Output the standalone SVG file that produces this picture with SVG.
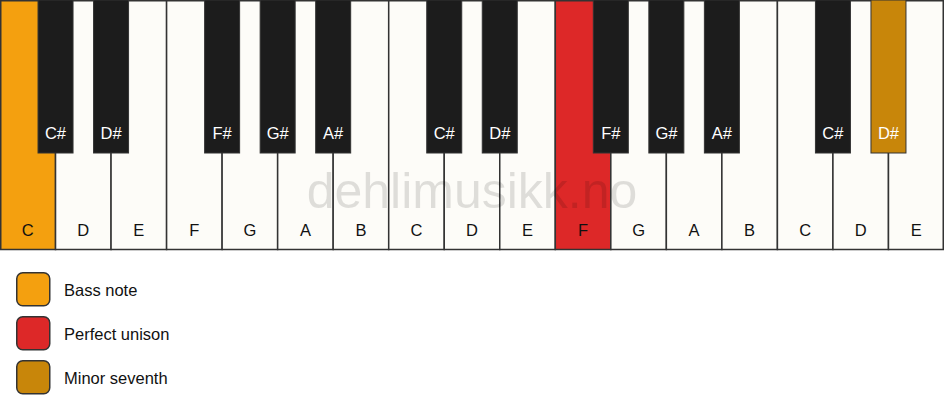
<svg xmlns="http://www.w3.org/2000/svg" width="944" height="417" viewBox="0 0 944 417">
<style>
.w{fill:#FDFCF8;stroke:#333;stroke-width:1.5}
.b{fill:#1C1C1C;stroke:#333;stroke-width:1}
.wl{font-family:"Liberation Sans",Arial,sans-serif;font-size:16.5px;fill:#111;text-anchor:middle}
.bl{font-family:"Liberation Sans",Arial,sans-serif;font-size:16.5px;fill:#fff;text-anchor:middle}
.lg{font-family:"Liberation Sans",Arial,sans-serif;font-size:16.5px;fill:#111}
.sw{stroke:#333;stroke-width:1.5}
</style>
<rect width="944" height="417" fill="#fff"/>
<g id="white-keys">
<rect class="w" x="0.75" y="0.75" width="54.78" height="248.75" style="fill:#F4A00F"/>
<rect class="w" x="55.53" y="0.75" width="55.53" height="248.75"/>
<rect class="w" x="111.06" y="0.75" width="55.53" height="248.75"/>
<rect class="w" x="166.59" y="0.75" width="55.53" height="248.75"/>
<rect class="w" x="222.12" y="0.75" width="55.53" height="248.75"/>
<rect class="w" x="277.65" y="0.75" width="55.53" height="248.75"/>
<rect class="w" x="333.18" y="0.75" width="55.53" height="248.75"/>
<rect class="w" x="388.71" y="0.75" width="55.53" height="248.75"/>
<rect class="w" x="444.24" y="0.75" width="55.53" height="248.75"/>
<rect class="w" x="499.76" y="0.75" width="55.53" height="248.75"/>
<rect class="w" x="555.29" y="0.75" width="55.53" height="248.75" style="fill:#DD2828"/>
<rect class="w" x="610.82" y="0.75" width="55.53" height="248.75"/>
<rect class="w" x="666.35" y="0.75" width="55.53" height="248.75"/>
<rect class="w" x="721.88" y="0.75" width="55.53" height="248.75"/>
<rect class="w" x="777.41" y="0.75" width="55.53" height="248.75"/>
<rect class="w" x="832.94" y="0.75" width="55.53" height="248.75"/>
<rect class="w" x="888.47" y="0.75" width="54.78" height="248.75"/>
</g>
<g id="white-labels">
<text class="wl" x="27.8" y="236">C</text>
<text class="wl" x="83.3" y="236">D</text>
<text class="wl" x="138.8" y="236">E</text>
<text class="wl" x="194.4" y="236">F</text>
<text class="wl" x="249.9" y="236">G</text>
<text class="wl" x="305.4" y="236">A</text>
<text class="wl" x="360.9" y="236">B</text>
<text class="wl" x="416.5" y="236">C</text>
<text class="wl" x="472.0" y="236">D</text>
<text class="wl" x="527.5" y="236">E</text>
<text class="wl" x="583.1" y="236">F</text>
<text class="wl" x="638.6" y="236">G</text>
<text class="wl" x="694.1" y="236">A</text>
<text class="wl" x="749.6" y="236">B</text>
<text class="wl" x="805.2" y="236">C</text>
<text class="wl" x="860.7" y="236">D</text>
<text class="wl" x="916.2" y="236">E</text>
</g>
<g id="black-keys">
<rect class="b" x="38.03" y="0" width="35" height="153"/>
<rect class="b" x="93.56" y="0" width="35" height="153"/>
<rect class="b" x="204.62" y="0" width="35" height="153"/>
<rect class="b" x="260.15" y="0" width="35" height="153"/>
<rect class="b" x="315.68" y="0" width="35" height="153"/>
<rect class="b" x="426.74" y="0" width="35" height="153"/>
<rect class="b" x="482.26" y="0" width="35" height="153"/>
<rect class="b" x="593.32" y="0" width="35" height="153"/>
<rect class="b" x="648.85" y="0" width="35" height="153"/>
<rect class="b" x="704.38" y="0" width="35" height="153"/>
<rect class="b" x="815.44" y="0" width="35" height="153"/>
<rect class="b" x="870.97" y="0" width="35" height="153" style="fill:#C8860A"/>
</g>
<g id="black-labels">
<text class="bl" x="55.5" y="139">C#</text>
<text class="bl" x="111.1" y="139">D#</text>
<text class="bl" x="222.1" y="139">F#</text>
<text class="bl" x="277.7" y="139">G#</text>
<text class="bl" x="333.2" y="139">A#</text>
<text class="bl" x="444.2" y="139">C#</text>
<text class="bl" x="499.8" y="139">D#</text>
<text class="bl" x="610.8" y="139">F#</text>
<text class="bl" x="666.4" y="139">G#</text>
<text class="bl" x="721.9" y="139">A#</text>
<text class="bl" x="832.9" y="139">C#</text>
<text class="bl" x="888.5" y="139">D#</text>
</g>
<text id="watermark" x="472" y="208" font-family="Liberation Sans,Arial,sans-serif" font-size="50" fill="#000" fill-opacity="0.12" text-anchor="middle">dehlimusikk.no</text>
<g id="legend-bass">
<rect class="sw" x="16.75" y="272.75" width="33" height="33" rx="6" fill="#F4A00F"/>
<text class="lg" x="64" y="296">Bass note</text>
</g>
<g id="legend-unison">
<rect class="sw" x="16.75" y="316.75" width="33" height="33" rx="6" fill="#DD2828"/>
<text class="lg" x="64" y="340">Perfect unison</text>
</g>
<g id="legend-seventh">
<rect class="sw" x="16.75" y="360.75" width="33" height="33" rx="6" fill="#C8860A"/>
<text class="lg" x="64" y="384">Minor seventh</text>
</g>
</svg>
